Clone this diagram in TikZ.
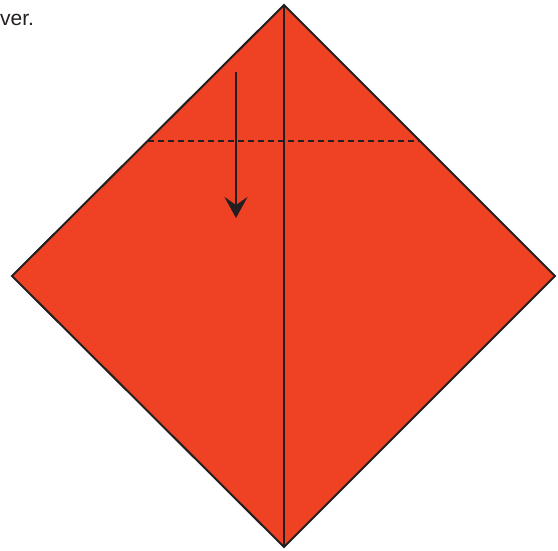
\documentclass[tikz,border=0pt]{standalone}
\usepackage{fontspec}
\setmainfont{Liberation Sans}
\usetikzlibrary{arrows.meta,positioning}
\definecolor{paper}{HTML}{EF4123}
\definecolor{ink}{HTML}{231F20}
\tikzset{
  sheet/.style={fill=paper, draw=ink, line width=2pt, line join=miter},
  crease/.style={draw=ink, line width=2.4pt},
  valley/.style={draw=ink, line width=2pt, dash pattern=on 6pt off 4pt},
  foldarr/.style={-{Stealth[length=21pt, width=23pt, inset=8pt]}, draw=ink, line width=2.4pt},
  caption/.style={font=\fontsize{21}{25}\selectfont, text=ink, inner sep=0pt, anchor=base west}
}

\begin{document}
\begin{tikzpicture}[x=1pt, y=-1pt]
\useasboundingbox (0,0) rectangle (558,550);
\coordinate (top) at (284,5);
\coordinate (lft) at (12,276);
\coordinate (rgt) at (555,276);
\coordinate (bot) at (284,547);
\coordinate (vl) at (148,141);
\coordinate (vr) at (419,141);
\coordinate (from) at (236,72);
\coordinate (to) at (236,218);

\draw[sheet] (top) -- (rgt) -- (bot) -- (lft) -- cycle;
\draw[crease] (top) -- (bot);
\draw[valley] (vl) -- (vr);
\draw[foldarr] (from) -- (to);

\node[caption] (txt) at (0,25) {ver.};
\end{tikzpicture}
\end{document}
